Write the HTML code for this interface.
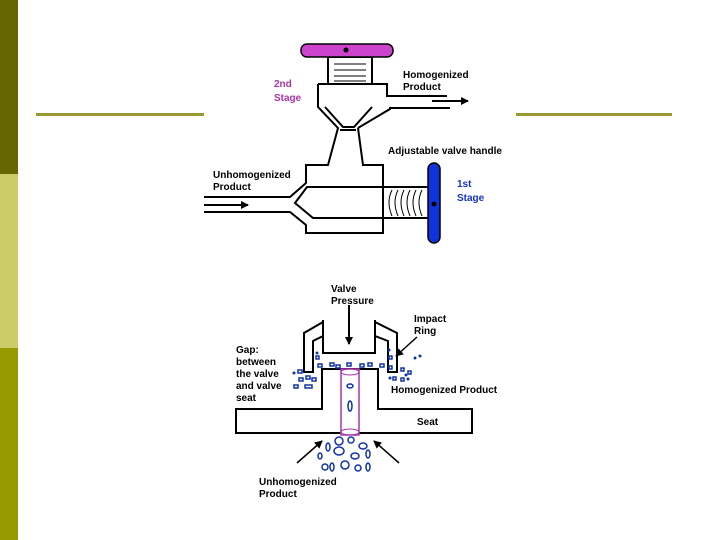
<!DOCTYPE html>
<html><head><meta charset="utf-8"><style>
html,body{margin:0;padding:0;background:#fff;}
body{width:720px;height:540px;position:relative;overflow:hidden;}
.sb{position:absolute;left:0;width:18px;}
svg{position:absolute;left:0;top:0;}
text{font-family:"Liberation Sans",sans-serif;font-size:10px;font-weight:bold;}
</style></head><body>
<div class="sb" style="top:0;height:174px;background:#666600"></div>
<div class="sb" style="top:174px;height:174px;background:#cccc66"></div>
<div class="sb" style="top:348px;height:192px;background:#999900"></div>
<svg width="720" height="540" viewBox="0 0 720 540">
<defs><marker id="ah" markerWidth="8" markerHeight="8" refX="7" refY="4" orient="auto" markerUnits="userSpaceOnUse"><path d="M0,0 L8,4 L0,8 z" fill="#000"/></marker></defs>
<rect x="36" y="113" width="168" height="3" fill="#999933"/>
<rect x="516" y="113" width="156" height="3" fill="#999933"/>
<g fill="none" stroke="#000" stroke-width="2">
<!-- upper threads -->
<rect x="328" y="57" width="44" height="27" fill="#fff"/>
<path d="M334,64h32M334,70h32M334,76h32M334,81h32" stroke-width="1"/>
<!-- upper body -->
<path d="M318,84 L387,84 L387,96 L447,96"/>
<path d="M450,108 L390,108 L390,109 L358,128"/>
<path d="M318,84 L318,107 L338,128 L328,165 L306,165 L306,183 L290,197 L204,197"/>
<path d="M204,212 L290,212 L306,225 L306,233 L383,233 L383,165 L363,165 L358,128"/>
<path d="M325,107 L343,127 L354,127 L372,107"/>
<path d="M340,130 L356,130"/>
<!-- lower inner -->
<path d="M428,187 L307,187 L295,203 L313,218 L428,218"/>
<path d="M392,190 q-6,12 0,26 M398,190 q-6,12 0,26 M404,190 q-6,12 0,26 M410,190 q-6,12 0,26 M416,190 q-6,12 0,26 M422,190 q-6,12 0,26" stroke-width="1"/>
<!-- arrows -->
<line x1="204" y1="205" x2="248" y2="205" marker-end="url(#ah)"/>
<line x1="432" y1="101" x2="468" y2="101" marker-end="url(#ah)"/>
</g>
<rect x="301" y="44" width="92" height="13" rx="6" fill="#cc44cc" stroke="#000" stroke-width="1.5"/>
<circle cx="346" cy="50" r="2.5" fill="#000"/>
<rect x="428" y="163" width="12" height="80" rx="6" fill="#1133dd" stroke="#000" stroke-width="1.5"/>
<circle cx="434" cy="204" r="2.5" fill="#000"/>
<text x="274" y="87" fill="#aa33aa">2nd</text>
<text x="274" y="101" fill="#aa33aa">Stage</text>
<text x="403" y="78">Homogenized</text>
<text x="403" y="90">Product</text>
<text x="388" y="154">Adjustable valve handle</text>
<text x="213" y="178" font-weight="normal">Unhomogenized</text>
<text x="213" y="190" font-weight="normal">Product</text>
<text x="457" y="187" fill="#1133cc">1st</text>
<text x="457" y="201" fill="#1133cc">Stage</text>

<!-- lower -->
<g fill="none" stroke="#000" stroke-width="2">
<path d="M322,409 L322,369 L378,369 L378,409 L472,409 L472,433 L236,433 L236,409 Z" fill="#fff"/>
<path d="M323,320 L323,353 L375,353 L375,320"/>
<path d="M323,322 L304,333 L304,372 L313,372 L313,341 L323,336"/>
<path d="M375,322 L397,333 L397,372 L388,372 L388,341 L375,336"/>
<line x1="349" y1="305" x2="349" y2="344" marker-end="url(#ah)"/>
<line x1="417" y1="337" x2="396" y2="356" stroke-width="1.5" marker-end="url(#ah)"/>
<line x1="297" y1="463" x2="322" y2="441" stroke-width="1.5" marker-end="url(#ah)"/>
<line x1="399" y1="463" x2="374" y2="441" stroke-width="1.5" marker-end="url(#ah)"/>
</g>
<rect x="341" y="369" width="18" height="66" fill="#fff" stroke="#aa33aa" stroke-width="1.5"/>
<ellipse cx="350" cy="432" rx="9" ry="3" fill="none" stroke="#aa33aa"/>
<ellipse cx="350" cy="372" rx="9" ry="3" fill="none" stroke="#aa33aa"/>
<g fill="none" stroke="#1133aa" stroke-width="1.5">
<ellipse cx="350" cy="386" rx="3" ry="2"/><ellipse cx="350" cy="406" rx="2" ry="5"/>
<ellipse cx="339" cy="441" rx="4" ry="4"/><ellipse cx="351" cy="440" rx="3" ry="3"/><ellipse cx="328" cy="447" rx="2" ry="4"/>
<ellipse cx="363" cy="446" rx="4" ry="3"/><ellipse cx="339" cy="451" rx="5" ry="4"/><ellipse cx="355" cy="456" rx="4" ry="3"/>
<ellipse cx="368" cy="454" rx="2" ry="4"/><ellipse cx="325" cy="467" rx="3" ry="3"/><ellipse cx="332" cy="467" rx="2" ry="4"/>
<ellipse cx="345" cy="465" rx="4" ry="4"/><ellipse cx="358" cy="468" rx="3" ry="3"/><ellipse cx="368" cy="467" rx="2" ry="4"/>
<ellipse cx="320" cy="456" rx="2" ry="3"/>
<rect x="298" y="370" width="4" height="3"/><rect x="306" y="376" width="4" height="3"/><rect x="299" y="378" width="4" height="3"/>
<rect x="312" y="378" width="4" height="3"/><rect x="294" y="385" width="4" height="3"/><rect x="305" y="385" width="7" height="3"/>
<rect x="318" y="364" width="4" height="3"/><rect x="330" y="363" width="4" height="3"/><rect x="336" y="365" width="4" height="3"/>
<rect x="347" y="363" width="4" height="3"/><rect x="360" y="364" width="4" height="3"/><rect x="368" y="363" width="4" height="3"/>
<rect x="380" y="364" width="4" height="3"/><rect x="389" y="356" width="3" height="3"/><rect x="389" y="366" width="3" height="3"/>
<rect x="401" y="368" width="3" height="3"/><rect x="408" y="371" width="3" height="3"/><rect x="401" y="378" width="3" height="3"/>
<rect x="393" y="377" width="3" height="3"/><rect x="316" y="356" width="3" height="3"/>
</g>
<g fill="#1133aa">
<circle cx="317" cy="353" r="1.5"/><circle cx="389" cy="350" r="1.5"/><circle cx="415" cy="358" r="1.5"/><circle cx="420" cy="356" r="1.5"/>
<circle cx="406" cy="375" r="1.5"/><circle cx="408" cy="379" r="1.5"/><circle cx="390" cy="378" r="1.5"/><circle cx="294" cy="373" r="1.5"/>
</g>
<text x="331" y="292">Valve</text>
<text x="331" y="304">Pressure</text>
<text x="414" y="322" font-weight="normal">Impact</text>
<text x="414" y="334">Ring</text>
<text x="236" y="353">Gap:</text>
<text x="236" y="365" font-weight="normal">between</text>
<text x="236" y="377">the valve</text>
<text x="236" y="389" font-weight="normal">and valve</text>
<text x="236" y="401" font-weight="normal">seat</text>
<text x="391" y="393" font-weight="normal">Homogenized Product</text>
<text x="417" y="425" font-weight="normal">Seat</text>
<text x="259" y="485">Unhomogenized</text>
<text x="259" y="497" font-weight="normal">Product</text>
</svg>
</body></html>
